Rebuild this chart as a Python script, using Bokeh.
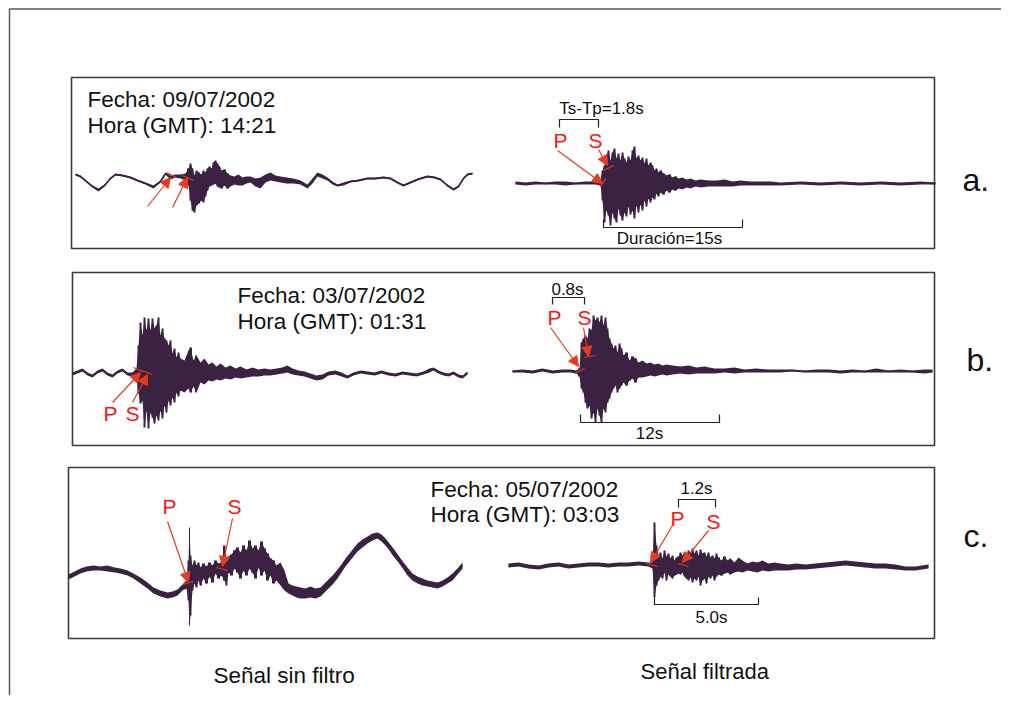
from bokeh.plotting import figure
from bokeh.models import Range1d, Label, Arrow, NormalHead
from bokeh.embed import file_html
from bokeh.resources import INLINE

# ------------------------------------------------------------------
# DATA: seismogram envelopes
# t = sample index, HI / LO = upper / lower envelope (amplitude units, up positive)
# ------------------------------------------------------------------
# a. 09/07/2002 - raw signal
A_RAW_T = [0, 5, 11, 17, 23, 29, 35, 40, 47, 55, 62, 70, 78, 85, 90, 95, 100, 105, 110, 113,
           115, 117, 119, 121, 123, 126, 128, 130, 132, 134, 136, 138, 140, 142, 144, 146, 149, 152, 155, 159,
           163, 167, 171, 175, 180, 185, 190, 195, 200, 205, 211, 218, 225, 232, 237, 242, 247, 252, 257, 262,
           268, 275, 283, 292, 300, 308, 315, 322, 328, 335, 342, 352, 359, 365, 372, 378, 383, 388, 392, 397]
A_RAW_HI = [5, 3, -2, -7, -10, -6, 1, 5, 4, 2, -1, -4, -7, -2, 6, 3, 4, 4, 5, 10,
            15, 10, 3, 8, 6, 4, 8, 6, 10, 12, 10, 16, 18, 15, 12, 8, 9, 5, 3, 2,
            4, 1, 2, 2, 0, 1, 4, 6, 3, 2, 1, 0, -2, -6, 0, 6, 4, 1, -3, -6,
            -4, -2, -1, 1, 1, 2, 1, -3, -6, -3, 0, 3, 2, 0, -6, -10, -7, 1, 5, 6]
A_RAW_LO = [3, 1, -4, -9, -13, -8, -1, 3, 2, 0, -3, -6, -10, -4, 4, -1, 1, 0, -2, -7,
            -22, -32, -34, -27, -25, -22, -24, -18, -12, -8, -7, -6, -5, -8, -9, -10, -7, -10, -8, -6,
            -7, -7, -5, -4, -8, -10, -4, -2, -3, -4, -5, -5, -6, -10, -5, 2, 0, -2, -6, -8,
            -7, -4, -3, -1, -1, 0, -1, -5, -8, -5, -2, 1, 0, -2, -8, -12, -9, -1, 3, 4]

# a. filtered signal
A_FIL_T = [0, 10, 20, 30, 40, 50, 60, 70, 80, 85, 87, 89, 91, 93, 95, 97, 99, 101, 103, 105,
           107, 109, 111, 113, 115, 117, 119, 121, 123, 125, 127, 129, 131, 133, 135, 137, 139, 141, 143, 145,
           148, 151, 154, 157, 160, 163, 167, 171, 175, 180, 185, 193, 201, 209, 217, 225, 235, 245, 255, 265,
           285, 305, 325, 345, 365, 385, 405, 420]
A_FIL_HI = [2, 1, 2, 1, 2, 2, 1, 2, 2, 4, 13, 18, 28, 33, 23, 31, 35, 25, 30, 23,
            31, 25, 21, 27, 23, 33, 37, 25, 28, 23, 26, 20, 25, 18, 21, 18, 13, 15, 11, 13,
            10, 8, 9, 6, 7, 5, 6, 4, 5, 3, 4, 3, 3, 4, 2, 3, 2, 2, 2, 1,
            2, 1, 2, 1, 2, 1, 2, 1]
A_FIL_LO = [-1, -2, -1, -1, -1, -2, -1, -1, -1, -2, -17, -39, -27, -32, -42, -29, -35, -39, -25, -32,
            -37, -29, -33, -23, -31, -27, -35, -22, -29, -21, -27, -17, -23, -15, -19, -14, -16, -10, -13, -9,
            -11, -7, -9, -6, -7, -5, -6, -4, -5, -3, -4, -3, -3, -3, -3, -2, -2, -2, -2, -2,
            -1, -2, -1, -2, -1, -2, -1, -1]

# b. 03/07/2002 - raw signal
B_RAW_T = [0, 5, 10, 15, 20, 25, 30, 35, 40, 45, 50, 55, 60, 64, 66, 68, 70, 72, 74, 76,
           78, 80, 82, 84, 86, 88, 90, 92, 94, 96, 98, 100, 102, 104, 106, 108, 112, 116, 118, 121,
           124, 128, 132, 136, 140, 144, 148, 153, 158, 163, 168, 174, 180, 186, 192, 198, 204, 210, 215, 220,
           226, 232, 238, 244, 250, 256, 263, 269, 275, 281, 288, 295, 302, 309, 316, 323, 330, 337, 344, 351,
           357, 361, 366, 371, 376, 381, 386, 390, 395]
B_RAW_HI = [1, 3, 5, 1, -1, 3, 5, 1, -1, 3, 5, 1, 1, 5, 28, 51, 38, 56, 43, 55,
            43, 55, 45, 48, 56, 38, 45, 35, 33, 28, 33, 20, 25, 16, 21, 15, 13, 23, 26, 13,
            18, 11, 15, 9, 11, 7, 10, 6, 8, 5, 7, 4, 6, 4, 5, 4, 5, 6, 8, 5,
            3, 2, 0, -2, -1, 2, 3, 1, -2, 1, 3, 2, 1, 3, 1, 0, 2, 1, 0, 2,
            5, 6, 3, 1, 0, 2, -1, -2, 2]
B_RAW_LO = [-2, 0, 2, -2, -4, 0, 2, -2, -4, 0, 2, -2, -3, -5, -20, -30, -27, -54, -37, -55,
            -39, -44, -50, -42, -47, -37, -45, -32, -39, -27, -32, -24, -29, -19, -23, -17, -19, -15, -19, -13,
            -19, -9, -11, -7, -8, -6, -7, -5, -6, -4, -5, -4, -3, -3, -2, -2, -1, 0, 1, -1,
            -2, -3, -5, -7, -6, -2, -1, -3, -5, -2, 0, -1, -2, 0, -2, -3, -1, -2, -3, -1,
            1, 3, 0, -2, -3, -1, -4, -5, -1]

# b. filtered signal
B_FIL_T = [0, 10, 20, 30, 40, 50, 58, 64, 67, 69, 71, 73, 75, 77, 79, 81, 83, 85, 87, 89,
           91, 93, 95, 97, 99, 101, 103, 105, 107, 109, 111, 114, 117, 120, 123, 126, 130, 134, 138, 142,
           146, 150, 154, 160, 168, 176, 184, 192, 202, 212, 222, 232, 244, 256, 268, 280, 292, 304, 316, 328,
           340, 352, 364, 376, 388, 400, 412, 420]
B_FIL_HI = [1, 2, 1, 3, 1, 2, 2, 1, 3, 29, 33, 36, 33, 43, 41, 56, 51, 54, 49, 56,
            46, 54, 43, 33, 28, 23, 26, 19, 28, 23, 16, 19, 11, 15, 13, 9, 11, 8, 9, 7,
            8, 6, 7, 6, 5, 6, 4, 5, 3, 3, 4, 2, 3, 2, 2, 2, 1, 2, 2, 1,
            2, 1, 3, 1, 2, 1, 2, 2]
B_FIL_LO = [-1, -1, -2, 0, -2, -1, -1, -2, -5, -17, -21, -31, -37, -34, -47, -41, -51, -37, -44, -51,
            -37, -41, -31, -27, -21, -17, -14, -21, -17, -14, -11, -14, -9, -7, -11, -6, -6, -5, -4, -5,
            -4, -3, -4, -3, -2, -3, -2, -2, -2, -1, -2, -1, -1, -1, -1, 0, -1, -1, -1, -2,
            -1, -1, -1, -1, -1, -1, -2, -1]

# c. 05/07/2002 - raw signal
C_RAW_T = [0, 6, 12, 18, 25, 32, 39, 46, 52, 59, 65, 72, 79, 85, 92, 99, 104, 109, 114, 118,
           120, 121, 122, 124, 126, 128, 130, 132, 135, 138, 141, 144, 147, 150, 153, 156, 158, 160, 163, 166,
           169, 172, 175, 178, 181, 184, 187, 190, 193, 196, 199, 202, 205, 208, 212, 216, 220, 224, 228, 232,
           237, 242, 247, 252, 257, 261, 265, 269, 273, 277, 281, 285, 289, 294, 299, 304, 309, 313, 317, 321,
           325, 330, 335, 339, 344, 349, 354, 359, 364, 369, 374, 379, 384, 389, 394]
C_RAW_HI = [1, 4, 7, 9, 10, 9, 10, 8, 7, 5, 2, -2, -7, -12, -15, -17, -16, -14, -9, -5,
            15, 48, 20, 10, 15, 10, 13, 8, 12, 9, 13, 10, 15, 12, 13, 30, 17, 19, 21, 25,
            28, 23, 30, 25, 35, 27, 30, 25, 34, 27, 22, 17, 15, 10, 13, 5, -8, -10, -11, -12,
            -13, -11, -13, -12, -7, -3, 1, 6, 11, 17, 22, 27, 32, 36, 39, 42, 43, 41, 37, 32,
            27, 20, 13, 8, 2, -1, -3, -5, -6, -7, -5, -2, 2, 7, 13]
C_RAW_LO = [-4, -1, 2, 4, 5, 5, 4, 3, 2, 0, -3, -8, -13, -18, -21, -23, -22, -20, -15, -13,
            -25, -50, -40, -15, -8, -12, -5, -10, -3, -8, -1, -7, 2, -3, 0, -5, -10, 3, 0, 7,
            3, -3, 5, 0, 7, 3, -3, 8, 0, 5, -5, 0, -8, -5, -10, -15, -18, -20, -22, -23,
            -23, -22, -23, -21, -16, -12, -8, -3, 3, 9, 14, 19, 24, 28, 32, 35, 37, 34, 30, 25,
            19, 13, 6, 0, -5, -8, -10, -11, -12, -13, -11, -8, -5, 1, 7]

# c. filtered signal
C_FIL_T = [0, 10, 20, 30, 40, 50, 60, 70, 80, 90, 100, 110, 120, 130, 140, 144, 146, 148, 150, 152,
           154, 156, 158, 160, 162, 164, 166, 168, 170, 172, 174, 176, 178, 180, 182, 184, 186, 188, 190, 192,
           194, 196, 198, 200, 202, 204, 206, 208, 210, 213, 216, 219, 222, 226, 230, 234, 239, 244, 249, 254,
           260, 266, 272, 280, 288, 297, 307, 317, 327, 337, 347, 357, 367, 377, 387, 397, 407, 420]
C_FIL_HI = [2, 3, 1, 0, 2, 3, 1, 2, 3, 3, 2, 3, 3, 4, 3, 3, 43, 20, 10, 13,
            7, 15, 9, 12, 7, 10, 5, 8, 9, 13, 10, 13, 10, 15, 12, 17, 12, 15, 10, 16,
            12, 13, 9, 13, 8, 10, 7, 12, 8, 5, 9, 5, 7, 3, 8, 5, 2, 4, 3, 5,
            2, 3, 2, 1, 2, 1, 2, 3, 4, 5, 4, 3, 2, 2, 1, -1, -1, 1]
C_FIL_LO = [-2, -1, -3, -4, -2, -1, -3, -2, -1, -1, -2, -1, -1, 0, -1, -3, -32, -20, -15, -11,
            -13, -7, -15, -9, -11, -13, -10, -9, -8, -9, -7, -11, -13, -15, -12, -17, -13, -15, -11, -20,
            -15, -13, -18, -11, -13, -10, -15, -11, -9, -10, -8, -7, -9, -7, -6, -7, -5, -6, -7, -5,
            -6, -5, -5, -5, -4, -4, -3, -2, -1, 0, -1, -2, -3, -3, -4, -5, -5, -3]

# texts
DATES = ["Fecha: 09/07/2002", "Fecha: 03/07/2002", "Fecha: 05/07/2002"]
HOURS = ["Hora (GMT): 14:21", "Hora (GMT): 01:31", "Hora (GMT): 03:03"]
PANEL_TAGS = ["a.", "b.", "c."]
INTERVAL_LABELS = ["Ts-Tp=1.8s", "0.8s", "1.2s"]
DURATION_LABELS = ["Duración=15s", "12s", "5.0s"]
COLUMN_LABELS = ["Señal sin filtro", "Señal filtrada"]

# ------------------------------------------------------------------
# LAYOUT / STYLE (page-pixel coordinates)
# ------------------------------------------------------------------
TRACE_COLOR = "#3b2142"
ARROW_RED = "#e63b1f"
LETTER_RED = "#ff1414"
FONT = "Liberation Sans"
BASELINE_SHIFT = 0.32   # em, compensates the svg text baseline placement

traces = [
    (A_RAW_T, A_RAW_HI, A_RAW_LO, 75, 178),
    (A_FIL_T, A_FIL_HI, A_FIL_LO, 515, 183),
    (B_RAW_T, B_RAW_HI, B_RAW_LO, 72, 373),
    (B_FIL_T, B_FIL_HI, B_FIL_LO, 512, 371),
    (C_RAW_T, C_RAW_HI, C_RAW_LO, 68, 575),
    (C_FIL_T, C_FIL_HI, C_FIL_LO, 508, 565),
]
boxes = [(71, 934, 77, 248), (72, 934, 272, 445), (68, 934, 467, 638)]
date_pos = [(87, 106, 132), (237, 302, 328), (430, 496, 521)]
tag_pos = [(962, 190), (966, 370), (963, 546)]
top_brackets = [((559, 598, 119, 127), (601, 113)),
                ((552, 584, 297, 304), (567, 294)),
                ((678, 715, 499, 507), (696, 493))]
dur_brackets = [((603, 742, 227, 219), (669, 243)),
                ((580, 719, 422, 414), (649, 438)),
                ((654, 758, 604, 597), (711, 622))]
letters = [("P", 553, 147), ("S", 588, 147),
           ("P", 103, 420), ("S", 125, 420),
           ("P", 547, 324), ("S", 577, 324),
           ("P", 162, 513), ("S", 227, 513),
           ("P", 670, 525), ("S", 706, 528)]
arrows = [(147, 206, 170, 177), (172, 207, 187, 177),
          (557, 150, 602, 183), (598, 149, 607, 165),
          (112, 402, 140, 372), (132, 402, 147, 374),
          (550, 327, 578, 366), (583, 327, 588, 356),
          (167, 521, 188, 582), (232, 518, 222, 566),
          (672, 525, 650, 562), (708, 530, 682, 562)]
ticks = [(166, 172, 176, 177), (182, 175, 193, 180),
         (600, 186, 605, 178), (603, 170, 613, 165),
         (133, 367, 142, 371), (141, 370, 152, 374),
         (574, 373, 584, 368), (584, 357, 595, 355),
         (182, 584, 193, 581), (216, 567, 227, 570),
         (646, 563, 657, 566), (678, 563, 688, 566)]

W, H = 1001, 695
p = figure(width=W, height=H, x_range=Range1d(0, W), y_range=Range1d(H, 0),
           output_backend="svg", toolbar_location=None, x_axis_type=None, y_axis_type=None,
           min_border=0, outline_line_color=None)
p.xgrid.visible = False
p.ygrid.visible = False
p.background_fill_color = "white"


def label(x, y, text, size, color="#111111", align="left"):
    p.add_layout(Label(x=x, y=y - BASELINE_SHIFT * size, text=text, text_font=FONT,
                       text_font_size=f"{size}px", text_color=color,
                       text_baseline="alphabetic", text_align=align))


# outer frame (left and top edges)
p.line([9, 9, W], [H, 8.5, 8.5], line_color="#5a5a5a", line_width=1.5)

# panel boxes
for (l, r, t, b) in boxes:
    p.quad(left=[l], right=[r], top=[t], bottom=[b], fill_color=None,
           line_color="#3a3a3a", line_width=1.6)


def dense_runs(T):
    runs, start = [], None
    for i in range(len(T) - 1):
        if T[i + 1] - T[i] <= 3:
            if start is None:
                start = i
        else:
            if start is not None:
                runs.append((start, i))
                start = None
    if start is not None:
        runs.append((start, len(T) - 1))
    return runs


# traces
for T, HI, LO, x0, y0 in traces:
    xs = [x0 + t for t in T]
    ytop = [y0 - h for h in HI]
    ybot = [y0 - l for l in LO]
    ymid = [(a + b) / 2 for a, b in zip(ytop, ybot)]
    p.varea(x=xs, y1=ytop, y2=ybot, fill_color=TRACE_COLOR)
    for s, e in dense_runs(T):
        p.varea_step(x=xs[s:e + 1], y1=ytop[s:e + 1], y2=ybot[s:e + 1],
                     step_mode="center", fill_color=TRACE_COLOR)
    p.line(xs, ymid, line_color=TRACE_COLOR, line_width=1.6)

# date texts
for (x, yb1, yb2), d, h in zip(date_pos, DATES, HOURS):
    label(x, yb1, d, 22.5)
    label(x, yb2, h, 22.5)

# panel tags
for (x, yy), tag in zip(tag_pos, PANEL_TAGS):
    label(x, yy, tag, 32)

# brackets
for ((x1, x2, yl, yt), (cx, cy)), txt in zip(top_brackets, INTERVAL_LABELS):
    p.line([x1, x1, x2, x2], [yt, yl, yl, yt], line_color="#222222", line_width=1.2)
    label(cx, cy, txt, 17, align="center")
for ((x1, x2, yl, yt), (cx, cy)), txt in zip(dur_brackets, DURATION_LABELS):
    p.line([x1, x1, x2, x2], [yt, yl, yl, yt], line_color="#222222", line_width=1.2)
    label(cx, cy, txt, 17, align="center")

# P / S letters
for txt, x, yy in letters:
    label(x, yy, txt, 21, color=LETTER_RED)

# arrows
for xs_, ys_, xe_, ye_ in arrows:
    p.add_layout(Arrow(end=NormalHead(size=10, fill_color=ARROW_RED, line_color=ARROW_RED),
                       x_start=xs_, y_start=ys_, x_end=xe_, y_end=ye_,
                       line_color=ARROW_RED, line_width=1.2))
p.segment(x0=[t[0] for t in ticks], y0=[t[1] for t in ticks],
          x1=[t[2] for t in ticks], y1=[t[3] for t in ticks],
          line_color=ARROW_RED, line_width=1.2)

# column labels
label(213, 682, COLUMN_LABELS[0], 22.5)
label(640, 678, COLUMN_LABELS[1], 22)

open("out.html", "w").write(file_html(p, INLINE))
